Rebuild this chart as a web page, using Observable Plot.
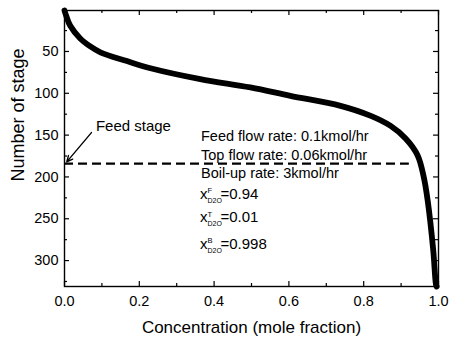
<!DOCTYPE html>
<html><head><meta charset="utf-8">
<script src="https://cdn.jsdelivr.net/npm/d3@7"></script>
<script src="https://cdn.jsdelivr.net/npm/@observablehq/plot@0.6"></script>
<style>
body{margin:0;background:#fff;}
#chart svg{font-family:"Liberation Sans",Arial,Helvetica,sans-serif;background:#fff;}
</style></head><body><div id="chart"></div>
<script>
// Concentration profile (mole fraction) vs stage number
const concentration = [0, 0.005, 0.015, 0.042, 0.069, 0.096, 0.167, 0.23, 0.363, 0.497, 0.604, 0.738, 0.819, 0.872, 0.912, 0.944, 0.961, 0.971, 0.986, 0.993, 0.995];
const stage =         [1, 8,     19,    34.5,  44,    51,    61.5,  70,   83,    93,    103,   115,   127,   139,   154,   174,   201,   228,   288,   328,   331];

const xTicks = [0, 0.2, 0.4, 0.6, 0.8, 1.0];
const xMinorTicks = [0.1, 0.3, 0.5, 0.7, 0.9];
const yTicks = [50, 100, 150, 200, 250, 300];
const yMinorTicks = [25, 75, 125, 175, 225, 275, 325];

const xTitle = "Concentration (mole fraction)";
const yTitle = "Number of stage";

const feedStage = 184;
const feedLineEnd = 0.922;
const feedLabel = "Feed stage";
const feedLabelAt = [0.084, 145.5];
const arrowFrom = [0.072, 147];
const arrowTo = [0.006, 182];

const noteX = 0.365;
const noteLines = ["Feed flow rate: 0.1kmol/hr", "Top flow rate: 0.06kmol/hr", "Boil-up rate: 3kmol/hr"];
const noteStages = [157.5, 179.5, 201.5];
const compSup = ["F", "T", "B"];
const compSub = ["D2O", "D2O", "D2O"];
const compValues = ["=0.94", "=0.01", "=0.998"];
const compStages = [226, 254, 286];

const W = 449, H = 338, mL = 64, mR = 11, mT = 10, mB = 52;
const innerW = W - mL - mR, innerH = H - mT - mB;

const profile = concentration.map((c, i) => ({c, s: stage[i]}));
const notes = noteLines.map((t, i) => ({t, s: noteStages[i]}));
const comps = compSup.map((sup, i) => ({sup, sub: compSub[i], val: compValues[i], s: compStages[i]}));

const fs = 14.5;
const chart = Plot.plot({
  width: W, height: H,
  marginLeft: mL, marginRight: mR, marginTop: mT, marginBottom: mB,
  x: {domain: [0, 1]},
  y: {domain: [1, 331], reverse: true},
  style: {fontFamily: '"Liberation Sans", Arial, sans-serif', fontSize: fs + "px", color: "#000", background: "#fff"},
  marks: [
    // inward ticks
    Plot.tickX(xTicks, {x: d => d, insetTop: innerH - 5, stroke: "#000", strokeWidth: 1.2}),
    Plot.tickX(xTicks, {x: d => d, insetBottom: innerH - 5, stroke: "#000", strokeWidth: 1.2}),
    Plot.tickX(xMinorTicks, {x: d => d, insetTop: innerH - 3, stroke: "#000", strokeWidth: 1.2}),
    Plot.tickX(xMinorTicks, {x: d => d, insetBottom: innerH - 3, stroke: "#000", strokeWidth: 1.2}),
    Plot.tickY(yTicks, {y: d => d, insetRight: innerW - 5, stroke: "#000", strokeWidth: 1.2}),
    Plot.tickY(yTicks, {y: d => d, insetLeft: innerW - 5, stroke: "#000", strokeWidth: 1.2}),
    Plot.tickY(yMinorTicks, {y: d => d, insetRight: innerW - 3, stroke: "#000", strokeWidth: 1.2}),
    Plot.tickY(yMinorTicks, {y: d => d, insetLeft: innerW - 3, stroke: "#000", strokeWidth: 1.2}),
    Plot.axisX(xTicks, {tickSize: 0, tickPadding: 9, tickFormat: d3.format(".1f"), fontSize: fs, label: null}),
    Plot.axisY(yTicks, {tickSize: 0, tickPadding: 6, fontSize: fs, label: null}),
    Plot.frame({stroke: "#000", strokeWidth: 1.4}),
    // feed stage dashed line
    Plot.ruleY([feedStage], {x1: 0, x2: feedLineEnd, stroke: "#000", strokeWidth: 2.2, strokeDasharray: "9,5"}),
    // profile
    Plot.line(profile, {x: "c", y: "s", stroke: "#000", strokeWidth: 5.8, curve: "catmull-rom"}),
    // feed stage annotation
    Plot.arrow([0], {x1: () => arrowFrom[0], y1: () => arrowFrom[1], x2: () => arrowTo[0], y2: () => arrowTo[1], stroke: "#000", strokeWidth: 1.4, headLength: 7, headAngle: 50}),
    Plot.text([feedLabel], {x: () => feedLabelAt[0], y: () => feedLabelAt[1], text: d => d, textAnchor: "start", lineAnchor: "bottom", fontSize: 15, fill: "#000"}),
    // notes
    Plot.text(notes, {x: () => noteX, y: "s", text: "t", textAnchor: "start", lineAnchor: "bottom", fontSize: fs, fill: "#000"}),
    Plot.text(comps, {x: () => noteX, y: "s", text: () => "x", textAnchor: "start", lineAnchor: "bottom", fontSize: 15, fill: "#000", dx: -1}),
    Plot.text(comps, {x: () => noteX, y: "s", text: "sup", textAnchor: "start", lineAnchor: "bottom", fontSize: 7.5, fill: "#000", dx: 6.5, dy: -5.5}),
    Plot.text(comps, {x: () => noteX, y: "s", text: "sub", textAnchor: "start", lineAnchor: "bottom", fontSize: 7, fill: "#000", dx: 6.5, dy: 4}),
    Plot.text(comps, {x: () => noteX, y: "s", text: "val", textAnchor: "start", lineAnchor: "bottom", fontSize: 15, fill: "#000", dx: 19.5}),
    // axis titles
    Plot.text([xTitle], {frameAnchor: "bottom", text: d => d, lineAnchor: "bottom", dy: 46, fontSize: 17, fill: "#000"}),
    Plot.text([yTitle], {frameAnchor: "left", text: d => d, rotate: -90, dx: -46, dy: 33, fontSize: 18, fill: "#000"})
  ]
});
document.getElementById("chart").appendChild(chart);
</script></body></html>
